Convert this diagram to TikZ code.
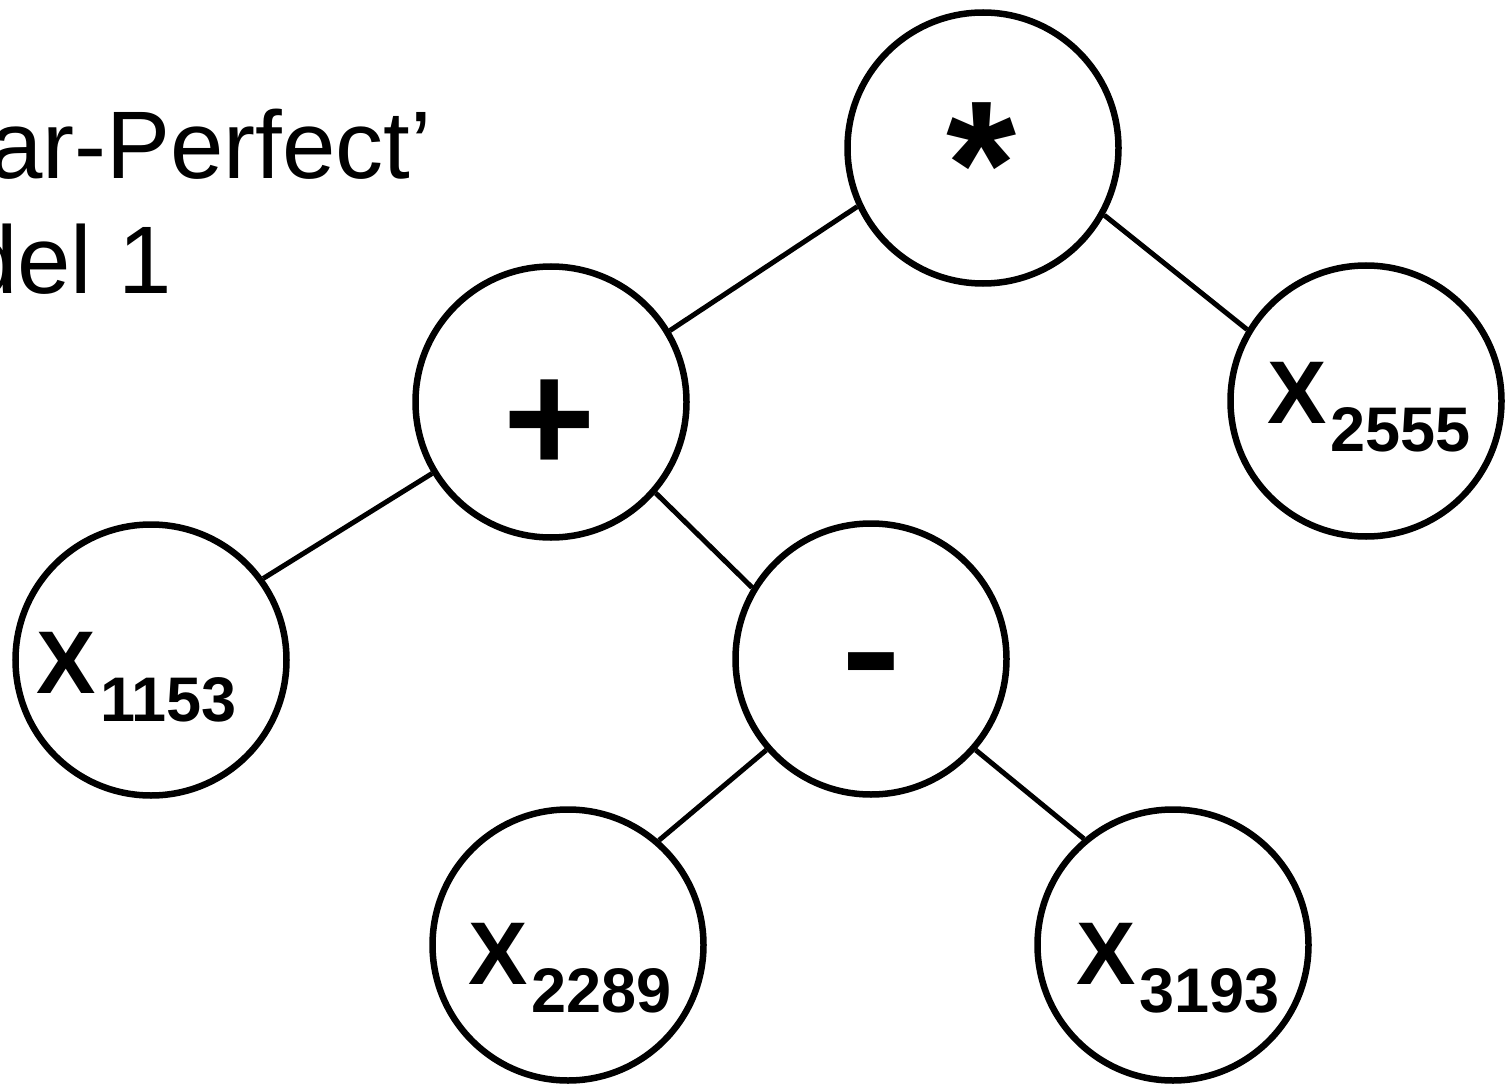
\documentclass[tikz,border=0pt]{standalone}
\usepackage{fontspec}
\setmainfont{Liberation Sans}
\newcommand{\xlab}[1]{{\fontsize{89}{89}\selectfont\bfseries X}\kern4pt\raisebox{-28pt}{\fontsize{63}{63}\selectfont\bfseries #1}}
\begin{document}
\begin{tikzpicture}[x=1pt,y=-1pt,
  tnode/.style={circle,draw,line width=6.5pt,minimum size=271pt,inner sep=0pt,fill=white},
  edge/.style={line width=5pt},
  lab/.style={inner sep=0pt,outer sep=0pt},
  op/.style={inner sep=0pt,font=\fontsize{#1}{#1}\selectfont\bfseries},
  title/.style={anchor=base west,inner sep=0pt,font=\fontsize{96}{96}\selectfont}]
\useasboundingbox (0,0) rectangle (1505,1086);
% title (cropped at the left edge)
\node[title] (t1) at (-11,179) {ar-Perfect’};
\node[title] (t2) at (-36,293) {del 1};
% tree nodes
\node[tnode] (star) at (983,148) {};
\node[tnode] (plus) at (551,402) {};
\node[tnode] (x2555) at (1366,401) {};
\node[tnode] (x1153) at (151,660) {};
\node[tnode] (minus) at (871,659) {};
\node[tnode] (x2289) at (568,945) {};
\node[tnode] (x3193) at (1173,945) {};
% connectors
\draw[edge] (star.205) -- (plus.31);
\draw[edge] (star.331) -- (x2555.149);
\draw[edge] (plus.211) -- (x1153.36);
\draw[edge] (plus.319) -- (minus.149);
\draw[edge] (minus.221) -- (x2289.49);
\draw[edge] (minus.319) -- (x3193.130);
% labels
\node[op=180] (ls) at (982,165) {*};
\node[op=158] (lp) at (550,426) {+};
\node[op=150] (lm) at (871,677) {\scalebox{1.2}[1]{-}};
\node[lab] (l2555) at (1369,407) {\xlab{2555}};
\node[lab] (l1153) at (137,677) {\xlab{1153}};
\node[lab] (l2289) at (570,968) {\xlab{2289}};
\node[lab] (l3193) at (1178,968) {\xlab{3193}};
\end{tikzpicture}
\end{document}
